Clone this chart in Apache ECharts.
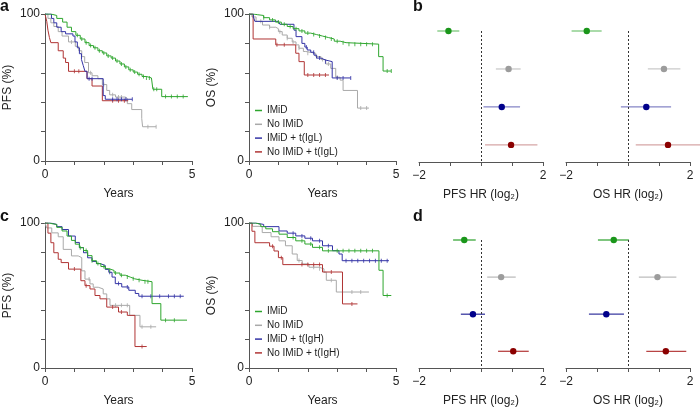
<!DOCTYPE html>
<html><head><meta charset="utf-8">
<script src="https://cdn.jsdelivr.net/npm/echarts@6/dist/echarts.min.js"></script>
<style>html,body{margin:0;padding:0;background:#fff}#c{width:700px;height:408px}</style>
</head><body><div id="c"></div>
<script>
// ---------- Kaplan-Meier data: [years, survival %] (value holds from that time on) ----------
// Panel a, PFS
const aPfsImid = [[0,100],[0.2,99],[0.4,97],[0.6,94.5],[0.75,91],[0.9,88],[1.05,85.5],[1.2,83],[1.36,80.5],[1.5,78.5],[1.65,77],[1.8,75],[1.95,73.5],[2.1,71.5],[2.25,70],[2.4,68],[2.55,66],[2.7,64],[2.85,62],[3.0,60.5],[3.15,59],[3.3,57.5],[3.45,56.5],[3.62,55.8],[3.67,48.8],[3.97,43.8],[4.86,43.8]];
const aPfsNoImid = [[0,100],[0.1,97],[0.2,94],[0.3,91.5],[0.45,88],[0.58,85],[0.8,81],[1.03,78],[1.15,75],[1.25,71],[1.35,67],[1.48,60],[1.6,58],[1.8,56],[1.95,52],[2.1,48],[2.2,45],[2.4,43.5],[2.73,42.5],[2.8,39],[2.95,35],[3.29,29],[3.32,23.3],[3.78,23.3]];
const aPfsImidT = [[0,100],[0.22,97],[0.3,94],[0.4,91],[0.55,88],[0.7,86.5],[0.95,85],[1.02,81],[1.1,77],[1.17,73],[1.24,69],[1.3,65],[1.36,61],[1.43,56],[1.98,44.5],[2.05,42],[2.97,42]];
const aPfsNoImidT = [[0,100],[0.06,95],[0.1,89],[0.15,84],[0.2,80.5],[0.45,75],[0.62,70],[0.7,67],[0.8,61],[1.43,56],[1.6,51],[1.95,41],[2.83,41]];
// Panel a, OS
const aOsImid = [[0,100],[0.15,99.5],[0.3,99],[0.5,97.5],[0.7,96],[0.9,94.5],[1.1,93],[1.3,91.5],[1.5,90],[1.7,88.5],[1.9,87],[2.1,86],[2.3,85],[2.5,84],[2.7,83],[2.9,81.5],[3.1,80.5],[3.3,79.5],[4.41,71],[4.56,61.2],[4.84,61.2]];
const aOsNoImid = [[0,100],[0.1,98],[0.24,95],[0.46,92.5],[0.7,91],[0.91,90],[1.0,88],[1.13,85.7],[1.3,83.5],[1.47,81],[1.6,79],[1.7,76.7],[1.85,74.5],[1.93,73.3],[2.27,71],[2.45,69],[2.61,66],[2.78,63],[2.95,57],[3.1,55],[3.2,48],[3.69,36],[4.08,36]];
const aOsImidT = [[0,100],[0.15,98],[0.2,95],[1.0,94.5],[1.05,93],[1.53,89],[1.6,84.6],[1.8,80],[1.9,77.5],[1.98,75.5],[2.1,74],[2.21,72],[2.3,70],[2.45,68.7],[2.6,67.6],[2.83,56.5],[3.46,56.5]];
const aOsNoImidT = [[0,100],[0.14,83],[0.91,79],[1.59,73.3],[1.7,67.6],[1.88,58.5],[2.72,58.5]];
// Panel c, PFS
const cPfsImid = [[0,100],[0.15,99.5],[0.24,99],[0.4,97],[0.58,94.5],[0.75,91],[0.9,88],[1.03,85.4],[1.17,83],[1.31,81],[1.45,77.5],[1.6,74],[1.75,72],[1.9,70],[2.05,68.5],[2.17,67.3],[2.35,65.5],[2.55,64],[2.73,62.7],[2.9,61.5],[3.05,60.5],[3.3,59.5],[3.64,44.4],[3.94,33],[4.83,33]];
const cPfsNoImid = [[0,100],[0.06,96.6],[0.23,93.2],[0.45,90.5],[0.62,81.8],[0.9,77.3],[1.13,76.1],[1.25,67],[1.36,61.3],[1.53,58],[1.64,55.7],[1.81,54.5],[1.98,51.1],[2.1,47.7],[2.21,43.2],[2.88,36.3],[3.23,28.4],[3.78,28.4]];
const cPfsImidT = [[0,100],[0.2,99],[0.4,97.5],[0.58,95.5],[0.8,91],[1.03,86.6],[1.17,83],[1.31,79.5],[1.45,76],[1.6,73.5],[1.75,72],[1.88,70.7],[2.05,68],[2.17,66],[2.28,62.7],[2.39,58.2],[2.61,55.9],[2.85,53.6],[3.07,51.4],[3.19,49.5],[4.72,49.5]];
const cPfsNoImidT = [[0,100],[0.1,93],[0.2,86.4],[0.3,79.5],[0.45,75],[0.55,72.7],[0.8,68.2],[1.22,60.2],[1.36,56.8],[1.53,54.5],[1.7,50],[1.87,47.7],[2.1,42],[2.5,38.6],[2.8,36.3],[3.06,14.8],[3.46,14.8]];
// Panel c, OS
const cOsImid = [[0,100],[0.23,99],[0.4,97.5],[0.57,96],[0.8,94],[1.02,92.3],[1.3,90],[1.59,87.7],[1.9,85.5],[2.16,83.2],[2.5,80.8],[4.42,67.4],[4.56,50],[4.84,50]];
const cOsNoImid = [[0,100],[0.12,97.7],[0.45,93.4],[0.75,90.5],[1.02,87.7],[1.24,84.3],[1.47,78.6],[1.64,74.1],[1.81,71.8],[2.04,69.5],[2.38,68.4],[2.55,66.1],[2.63,60.5],[2.97,52.4],[4.08,52.4]];
const cOsImidT = [[0,100],[0.23,99],[0.5,97.5],[1.02,94.5],[1.3,93],[1.59,91.1],[1.9,89.5],[2.16,87.7],[2.5,84.3],[2.84,80.9],[3.06,78.6],[3.17,74],[4.76,74]];
const cOsNoImidT = [[0,100],[0.1,94.3],[0.2,86.4],[0.7,84],[0.85,80.7],[1.0,76.1],[1.15,71.3],[2.5,66.2],[3.18,44.2],[3.69,44.2]];

// ---------- censoring times (years) ----------
const aPfsImidCens = [1.1,1.25,1.4,1.55,1.7,1.85,2.0,2.15,2.3,2.45,2.6,2.75,2.9,3.05,3.2,3.35,3.45,3.55,3.7,3.8,4.1,4.3,4.5,4.7];
const aPfsNoImidCens = [0.9,1.55,2.0,2.3,2.5,2.6,3.5,3.78];
const aPfsImidTCens = [1.5,1.6,2.3,2.45,2.6,2.75,2.97];
const aPfsNoImidTCens = [1.0,1.15,2.3,2.5,2.7];
const aOsImidCens = [0.5,0.8,1.0,1.2,1.4,1.6,1.8,2.0,2.2,2.4,2.6,2.8,3.0,3.2,3.4,3.6,3.8,4.0,4.2,4.7,4.84];
const aOsNoImidCens = [0.4,0.7,1.05,1.3,1.5,1.7,2.0,2.3,2.5,2.7,3.0,3.8,4.0];
const aOsImidTCens = [1.95,2.2,2.4,2.6,3.0,3.2,3.46];
const aOsNoImidTCens = [0.95,1.2,2.0,2.2,2.4,2.6];
const cPfsImidCens = [1.2,1.4,1.6,1.8,2.0,2.2,2.4,2.6,2.8,3.0,3.2,3.4,3.5,4.1,4.4];
const cPfsNoImidCens = [1.5,2.4,2.6,2.8,3.3,3.6];
const cPfsImidTCens = [2.2,2.5,2.8,3.3,3.6,3.9,4.2,4.4,4.6];
const cPfsNoImidTCens = [1.0,1.4,2.3,2.6,3.3];
const cOsImidCens = [1.5,1.8,2.1,2.4,2.7,3.0,3.2,3.4,3.6,3.8,4.0,4.2,4.7];
const cOsNoImidCens = [1.7,2.2,2.4,2.8,3.5,3.8];
const cOsImidTCens = [1.5,1.8,2.1,2.4,2.7,3.3,3.5,3.7,3.9,4.1,4.3,4.5,4.7];
const cOsNoImidTCens = [0.8,1.1,1.8,2.0,2.2,2.4,2.8,3.5];

// ---------- hazard ratios (log2): rows IMiD, No IMiD, IMiD+t, No IMiD+t ----------
const bPfsEst = [-1.05, 0.89, 0.67, 0.97];
const bPfsLo  = [-1.41, 0.48, 0.08, 0.13];
const bPfsHi  = [-0.70, 1.28, 1.26, 1.82];
const bOsEst  = [-1.33, 1.16, 0.59, 1.29];
const bOsLo   = [-1.82, 0.64, -0.23, 0.25];
const bOsHi   = [-0.85, 1.69, 1.39, 2.35];
const dPfsEst = [-0.54, 0.65, -0.26, 1.04];
const dPfsLo  = [-0.90, 0.20, -0.65, 0.55];
const dPfsHi  = [-0.17, 1.12, 0.13, 1.54];
const dOsEst  = [-0.46, 0.95, -0.70, 1.22];
const dOsLo   = [-0.97, 0.35, -1.26, 0.59];
const dOsHi   = [0.03, 1.56, -0.13, 1.88];

// ---------- labels ----------
const legendA = ['IMiD', 'No IMiD', 'IMiD + t(IgL)', 'No IMiD + t(IgL)'];
const legendC = ['IMiD', 'No IMiD', 'IMiD + t(IgH)', 'No IMiD + t(IgH)'];
const kmXTicks = [0, 5];
const kmYTicks = [0, 100];
const hrTicks = [-2, 2];

// ---------- styling ----------
const FONT = '"Liberation Sans", Arial, Helvetica, sans-serif';
const AX = '#555';
const TXT = '#222';
const lineCol = {imid:'#2ea62e', noimid:'#a9a9a9', imidT:'#3333a6', noimidT:'#b03434'};
const ptColors = ['#1a961a', '#9c9c9c', '#00008b', '#8b0000'];
const ciB = ['#7cc87c', '#cacaca', '#8585c6', '#d6a6a6'];
const ciD = ['#3aa83a', '#bdbdbd', '#3a3aa0', '#b84444'];

const grids = [
  {left:45, top:14, width:147, height:147},
  {left:249, top:14, width:147, height:147},
  {left:419, top:31, width:124, height:131},
  {left:566, top:31, width:124, height:131},
  {left:45, top:223, width:147, height:147},
  {left:249, top:223, width:147, height:147},
  {left:419, top:240, width:124, height:132},
  {left:566, top:240, width:124, height:132}
];
const kmGrids = [0,1,4,5];
const yNames = ['PFS (%)', 'OS (%)', null, null, 'PFS (%)', 'OS (%)', null, null];
const hrNames = [null, null, 'PFS HR (log\u2082)', 'OS HR (log\u2082)', null, null, 'PFS HR (log\u2082)', 'OS HR (log\u2082)'];

const axisLine = {show:true, onZero:false, lineStyle:{color:AX, width:1}};
const axisTick = {show:true, length:4, lineStyle:{color:AX, width:1}};

const xAxes = [], yAxes = [];
grids.forEach((g, i) => {
  const isKm = kmGrids.includes(i);
  if (isKm) {
    xAxes.push({type:'value', gridIndex:i, min:0, max:5, interval:1, axisLine, axisTick, splitLine:{show:false},
      axisLabel:{color:TXT, fontSize:12, fontFamily:FONT, margin:8, formatter:v => kmXTicks.includes(v) ? String(v) : ''},
      name:'Years', nameLocation:'middle', nameGap:27, nameTextStyle:{color:TXT, fontSize:12, fontFamily:FONT}});
    yAxes.push({type:'value', gridIndex:i, min:0, max:100, interval:20, axisLine, axisTick, splitLine:{show:false},
      axisLabel:{color:TXT, fontSize:12, fontFamily:FONT, margin:5, formatter:v => kmYTicks.includes(v) ? String(v) : ''},
      name:yNames[i], nameLocation:'middle', nameGap:31, nameRotate:90, nameTextStyle:{color:TXT, fontSize:12, fontFamily:FONT}});
  } else {
    xAxes.push({type:'value', gridIndex:i, min:-2, max:2, interval:1, axisLine, axisTick, splitLine:{show:false},
      axisLabel:{color:TXT, fontSize:12, fontFamily:FONT, margin:8, formatter:v => hrTicks.includes(v) ? String(v).replace('-', '\u2212') : ''},
      name:hrNames[i], nameLocation:'middle', nameGap:27, nameTextStyle:{color:TXT, fontSize:12, fontFamily:FONT}});
    yAxes.push({type:'value', gridIndex:i, min:0, max:3.45, inverse:true, show:false});
  }
});

function censorPts(curve, times) {
  return times.map(t => {
    let s = curve[0][1];
    for (const p of curve) { if (p[0] <= t) s = p[1]; }
    return [t, s];
  });
}
function km(gi, name, curve, cens, color, z) {
  return [
    {type:'line', name, xAxisIndex:gi, yAxisIndex:gi, data:curve, step:'end', showSymbol:false,
     lineStyle:{color, width:1}, itemStyle:{color}, silent:true, z},
    {type:'scatter', name:name + ' (censored)', xAxisIndex:gi, yAxisIndex:gi, data:censorPts(curve, cens),
     symbol:'rect', symbolSize:[1, 4], itemStyle:{color, opacity:0.8}, silent:true, z}
  ];
}
function forest(gi, est, lo, hi, ci) {
  const data = est.map((e, i) => [i, e, lo[i], hi[i]]);
  return {
    type:'custom', xAxisIndex:gi, yAxisIndex:gi, data, clip:false, silent:true,
    encode:{x:[1,2,3], y:0},
    renderItem:(params, api) => {
      const r = api.value(0);
      const a = api.coord([api.value(2), r]);
      const b = api.coord([api.value(3), r]);
      const c = api.coord([api.value(1), r]);
      return {type:'group', children:[
        {type:'line', shape:{x1:a[0], y1:a[1], x2:b[0], y2:b[1]}, style:{stroke:ci[r], lineWidth:1.3}},
        {type:'circle', shape:{cx:c[0], cy:c[1], r:3.2}, style:{fill:ptColors[r]}}
      ]};
    },
    markLine:{silent:true, symbol:'none', label:{show:false}, animation:false,
      lineStyle:{type:[2,2], color:'#333', width:1}, data:[{xAxis:0}]}
  };
}

const series = [].concat(
  km(0, legendA[1], aPfsNoImid, aPfsNoImidCens, lineCol.noimid, 2),
  km(0, legendA[3], aPfsNoImidT, aPfsNoImidTCens, lineCol.noimidT, 3),
  km(0, legendA[2], aPfsImidT, aPfsImidTCens, lineCol.imidT, 4),
  km(0, legendA[0], aPfsImid, aPfsImidCens, lineCol.imid, 5),
  km(1, legendA[1], aOsNoImid, aOsNoImidCens, lineCol.noimid, 2),
  km(1, legendA[3], aOsNoImidT, aOsNoImidTCens, lineCol.noimidT, 3),
  km(1, legendA[2], aOsImidT, aOsImidTCens, lineCol.imidT, 4),
  km(1, legendA[0], aOsImid, aOsImidCens, lineCol.imid, 5),
  km(4, legendC[1], cPfsNoImid, cPfsNoImidCens, lineCol.noimid, 2),
  km(4, legendC[3], cPfsNoImidT, cPfsNoImidTCens, lineCol.noimidT, 3),
  km(4, legendC[2], cPfsImidT, cPfsImidTCens, lineCol.imidT, 4),
  km(4, legendC[0], cPfsImid, cPfsImidCens, lineCol.imid, 5),
  km(5, legendC[1], cOsNoImid, cOsNoImidCens, lineCol.noimid, 2),
  km(5, legendC[3], cOsNoImidT, cOsNoImidTCens, lineCol.noimidT, 3),
  km(5, legendC[2], cOsImidT, cOsImidTCens, lineCol.imidT, 4),
  km(5, legendC[0], cOsImid, cOsImidCens, lineCol.imid, 5),
  [forest(2, bPfsEst, bPfsLo, bPfsHi, ciB), forest(3, bOsEst, bOsLo, bOsHi, ciB),
   forest(6, dPfsEst, dPfsLo, dPfsHi, ciD), forest(7, dOsEst, dOsLo, dOsHi, ciD)]
);

const legendStyle = {orient:'vertical', icon:'rect', itemWidth:7, itemHeight:1.5, itemGap:2.8, padding:0,
  selectedMode:false, textStyle:{color:TXT, fontSize:10, fontFamily:FONT, lineHeight:11}};

const letter = (t, x, y) => ({type:'text', left:x, top:y, style:{text:t, fill:'#111', font:'bold 16px ' + FONT}});

const chart = echarts.init(document.getElementById('c'), null, {renderer:'canvas'});
chart.setOption({
  animation:false,
  backgroundColor:'#fff',
  grid:grids,
  xAxis:xAxes,
  yAxis:yAxes,
  legend:[
    Object.assign({data:legendA, left:255, top:105}, legendStyle),
    Object.assign({data:legendC, left:255, top:306}, legendStyle)
  ],
  graphic:[letter('a', 0, -1), letter('b', 413, -1), letter('c', 0, 209), letter('d', 413, 209)],
  series
});
</script></body></html>
